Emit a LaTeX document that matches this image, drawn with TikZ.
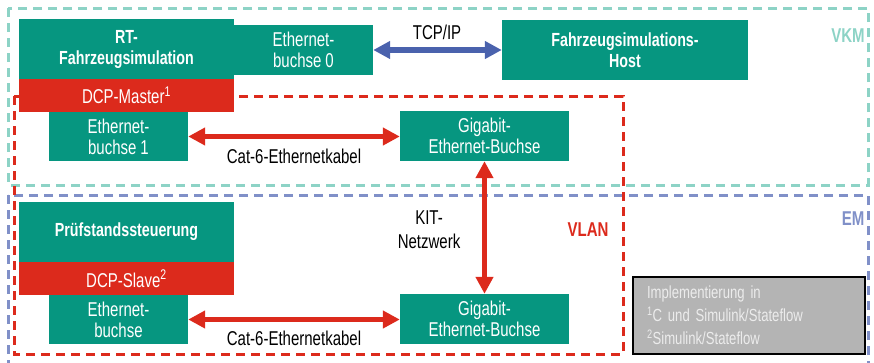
\documentclass[tikz,border=0pt]{standalone}
\usepackage{fontspec}
\setmainfont[FakeStretch=0.75]{Liberation Sans}
\usetikzlibrary{arrows.meta}
\definecolor{tealbox}{RGB}{6,150,128}
\definecolor{redbox}{RGB}{220,42,28}
\definecolor{bluearr}{RGB}{74,98,173}
\definecolor{vkmcol}{RGB}{141,211,198}
\definecolor{emcol}{RGB}{128,144,200}
\definecolor{grayfill}{RGB}{180,180,180}
\definecolor{graytext}{RGB}{236,236,236}
\newcommand{\tightsp}{\spaceskip=0.2em plus 0.05em\relax}
\tikzset{
  box/.style={fill=tealbox, text=white, inner sep=0pt, align=center, font=\fontsize{20}{21}\selectfont\tightsp},
  boldbox/.style={box, font=\fontsize{19}{21}\selectfont\bfseries\tightsp},
  redlabel/.style={fill=redbox, text=white, inner sep=0pt, align=center, font=\fontsize{20}{21}\selectfont\tightsp},
  lbl/.style={inner sep=0pt, align=center, font=\fontsize{20}{24}\selectfont\tightsp},
  grp/.style={inner sep=0pt, font=\fontsize{20}{21}\selectfont\bfseries},
  redarrow/.style={draw=redbox, line width=5.5pt, {Triangle[length=17pt,width=17pt]}-{Triangle[length=17pt,width=17pt]}},
  bluearrow/.style={draw=bluearr, line width=5.5pt, {Triangle[length=17pt,width=17pt]}-{Triangle[length=17pt,width=17pt]}},
  dashbox/.style={line width=3pt, dash pattern=on 9pt off 6pt}
}
\begin{document}
\begin{tikzpicture}[x=1pt,y=-1pt]
\useasboundingbox (0,0) rectangle (874,362);
% group boxes
\draw[dashbox, draw=vkmcol] (8,8) rectangle (868,185);
\draw[dashbox, draw=emcol] (8,195) -- (8,370) (868,370) -- (868,195) -- (8,195);
\draw[dashbox, draw=redbox] (14,96) rectangle (623,354);
% nodes
\node[boldbox, minimum width=215pt, minimum height=60pt] (rt) at (126.5,49) {RT-\\Fahrzeugsimulation};
\node[box, minimum width=139pt, minimum height=50pt] (eb0) at (303.5,50) {Ethernet-\\buchse 0};
\node[redlabel, minimum width=215pt, minimum height=33pt] (master) at (126.5,95.5) {DCP-Master\textsuperscript{1}};
\node[box, minimum width=139pt, minimum height=49pt] (eb1) at (118.5,136.5) {Ethernet-\\buchse 1};
\node[box, minimum width=169pt, minimum height=50pt] (gig1) at (484.5,136) {Gigabit-\\Ethernet-Buchse};
\node[boldbox, minimum width=246pt, minimum height=60pt] (host) at (625,50) {Fahrzeugsimulations-\\Host};
\node[boldbox, minimum width=215pt, minimum height=60pt] (pruef) at (126.5,232) {Prüfstandssteuerung};
\node[redlabel, minimum width=215pt, minimum height=33pt] (slave) at (126.5,278.5) {DCP-Slave\textsuperscript{2}};
\node[box, minimum width=139pt, minimum height=49pt] (eb2) at (118.5,319.5) {Ethernet-\\buchse};
\node[box, minimum width=169pt, minimum height=50pt] (gig2) at (484.5,319) {Gigabit-\\Ethernet-Buchse};
\node[draw=black, line width=2pt, fill=grayfill, minimum width=232pt, minimum height=77pt, text=graytext, align=left, text width=204pt, inner sep=0pt, font=\fontsize{17.5}{23}\selectfont\tightsp] (note) at (749,315.5) {Implementierung in\\\textsuperscript{1}C und Simulink/Stateflow\\\textsuperscript{2}Simulink/Stateflow};
% connectors
\draw[bluearrow] (eb0.east) -- (host.west);
\draw[redarrow] (eb1.east) -- (eb1.east -| gig1.west);
\draw[redarrow] (eb2.east) -- (eb2.east -| gig2.west);
\draw[redarrow] (gig1.south) -- (gig2.north);
% labels
\node[lbl] (tcp) at (437,32) {TCP/IP};
\node[lbl] (cat1) at (294,156) {Cat-6-Ethernetkabel};
\node[lbl] (cat2) at (294,338) {Cat-6-Ethernetkabel};
\node[lbl] (kit) at (429,230) {KIT-\\Netzwerk};
\node[grp, text=redbox] (vlan) at (588,230) {VLAN};
\node[grp, text=vkmcol] (vkm) at (848,36) {VKM};
\node[grp, text=emcol] (em) at (853,219) {EM};
\end{tikzpicture}
\end{document}
